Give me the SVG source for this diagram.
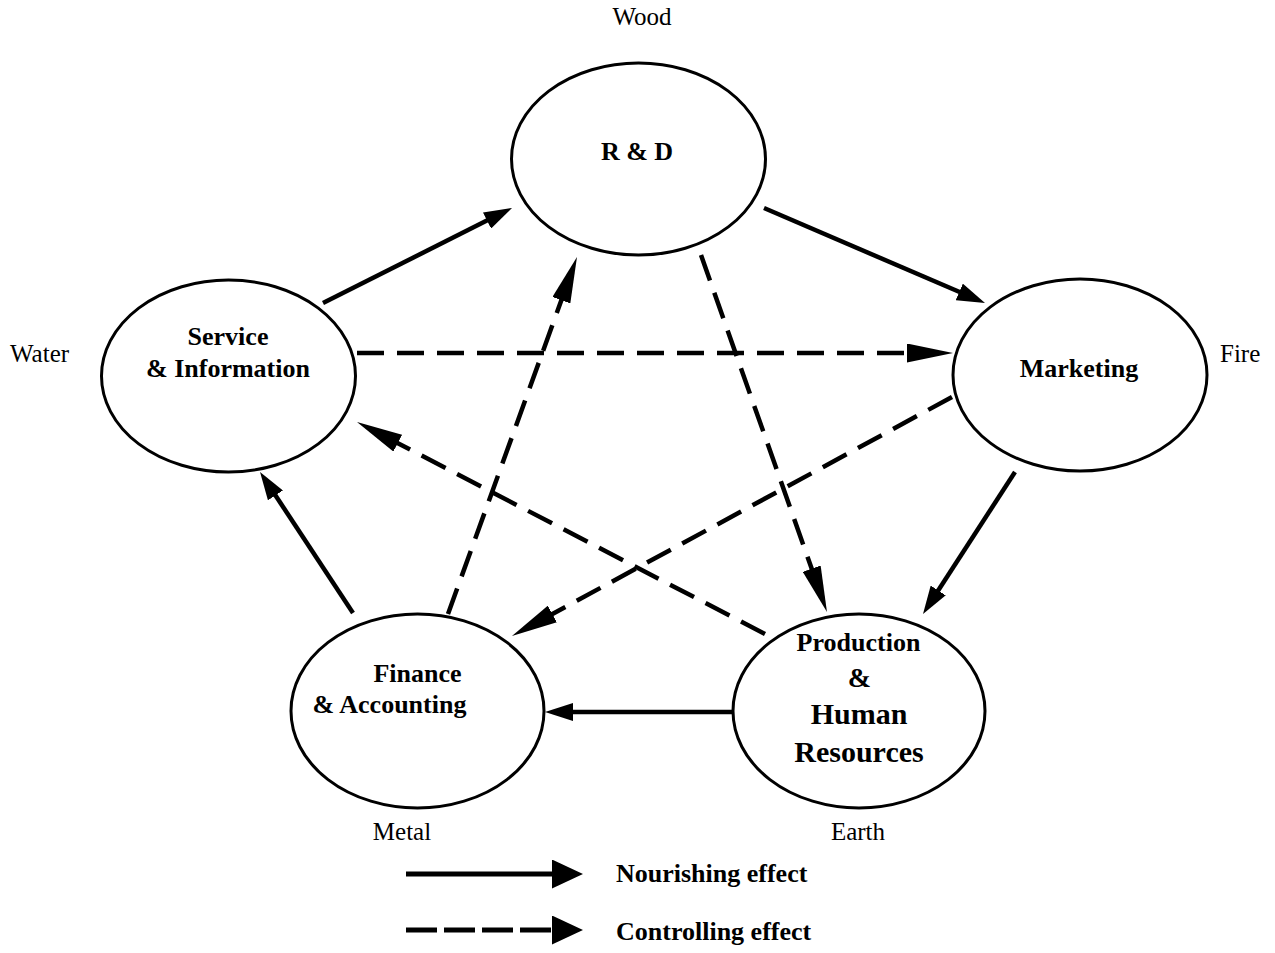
<svg xmlns="http://www.w3.org/2000/svg" width="1275" height="953" viewBox="0 0 1275 953">
  <style>
    .node { fill: #ffffff; stroke: #000000; stroke-width: 3; }
    .label { font-family: "Liberation Serif", "Times New Roman", serif; font-weight: bold; font-size: 26px; fill: #000; text-anchor: middle; }
    .key-text { font-family: "Liberation Serif", "Times New Roman", serif; font-weight: bold; font-size: 26px; fill: #000; text-anchor: start; }
    .big { font-size: 30px; }
    .amp { font-size: 28px; }
    .element { font-family: "Liberation Serif", "Times New Roman", serif; font-size: 25px; fill: #000; }
    .nourish { fill: none; stroke: #000; stroke-width: 4.5; marker-end: url(#head); }
    .control { fill: none; stroke: #000; stroke-width: 4.5; stroke-dasharray: 27 13; marker-end: url(#head-long); }
    .key { fill: none; stroke: #000; stroke-width: 5; marker-end: url(#head-key); }
  </style>
  <defs>
    <marker id="head" markerUnits="userSpaceOnUse" markerWidth="28" markerHeight="18" viewBox="0 -9 28 18" refX="1" refY="0" orient="auto">
      <path d="M0,-9 L28,0 L0,9 z" fill="#000"/>
    </marker>
    <marker id="head-long" markerUnits="userSpaceOnUse" markerWidth="46" markerHeight="19" viewBox="0 -9.5 46 19" refX="1" refY="0" orient="auto">
      <path d="M0,-9.5 L46,0 L0,9.5 z" fill="#000"/>
    </marker>
    <marker id="head-key" markerUnits="userSpaceOnUse" markerWidth="31" markerHeight="29" viewBox="0 -14.5 31 29" refX="1" refY="0" orient="auto">
      <path d="M0,-14.5 L31,0 L0,14.5 z" fill="#000"/>
    </marker>
  </defs>

  <rect width="1275" height="953" fill="#ffffff"/>

  <!-- element names around the cycle -->
  <g id="elements">
    <text class="element" x="642" y="25" text-anchor="middle">Wood</text>
    <text class="element" x="10" y="362">Water</text>
    <text class="element" x="1220" y="362">Fire</text>
    <text class="element" x="402" y="840" text-anchor="middle">Metal</text>
    <text class="element" x="858" y="840" text-anchor="middle">Earth</text>
  </g>

  <!-- nourishing (solid) and controlling (dashed) effects -->
  <g id="connectors">
    <line class="nourish" x1="323" y1="303" x2="487.9" y2="220.1"/>
    <line class="nourish" x1="764" y1="208" x2="960.2" y2="292.3"/>
    <line class="nourish" x1="1015" y1="472" x2="937.7" y2="591.3"/>
    <line class="nourish" x1="732" y1="712" x2="572" y2="712"/>
    <line class="nourish" x1="353" y1="613" x2="274.9" y2="494.5"/>

    <line class="control" x1="357" y1="353" x2="908" y2="353"/>
    <line class="control" x1="701" y1="255" x2="812" y2="569.6"/>
    <line class="control" x1="952" y1="397" x2="551.5" y2="614.5"/>
    <line class="control" x1="765" y1="634" x2="396.9" y2="442.7"/>
    <line class="control" x1="448" y1="614" x2="561.7" y2="299.3"/>
  </g>

  <g id="rd">
    <ellipse class="node" cx="638.5" cy="159" rx="127" ry="96"/>
    <text class="label" x="637" y="160">R &amp; D</text>
  </g>

  <g id="service">
    <ellipse class="node" cx="228.5" cy="376" rx="127" ry="96"/>
    <text class="label" x="228" y="345">Service</text>
    <text class="label" x="228" y="377">&amp; Information</text>
  </g>

  <g id="marketing">
    <ellipse class="node" cx="1080" cy="375" rx="127" ry="96"/>
    <text class="label" x="1079" y="377">Marketing</text>
  </g>

  <g id="finance">
    <ellipse class="node" cx="417.5" cy="711" rx="126.5" ry="97"/>
    <text class="label" x="417.5" y="682">Finance</text>
    <text class="label" x="389.5" y="713">&amp; Accounting</text>
  </g>

  <g id="production">
    <ellipse class="node" cx="859" cy="711" rx="126" ry="97"/>
    <text class="label" x="858.5" y="651">Production</text>
    <text class="label amp" x="859.5" y="687">&amp;</text>
    <text class="label big" x="859" y="724">Human</text>
    <text class="label big" x="859" y="762">Resources</text>
  </g>

  <!-- key -->
  <g id="legend">
    <line class="key" x1="406" y1="874" x2="553" y2="874"/>
    <text class="key-text" x="616" y="882">Nourishing effect</text>
    <line class="key" x1="406" y1="930" x2="553" y2="930" stroke-dasharray="31 7"/>
    <text class="key-text" x="616" y="940">Controlling effect</text>
  </g>
</svg>
